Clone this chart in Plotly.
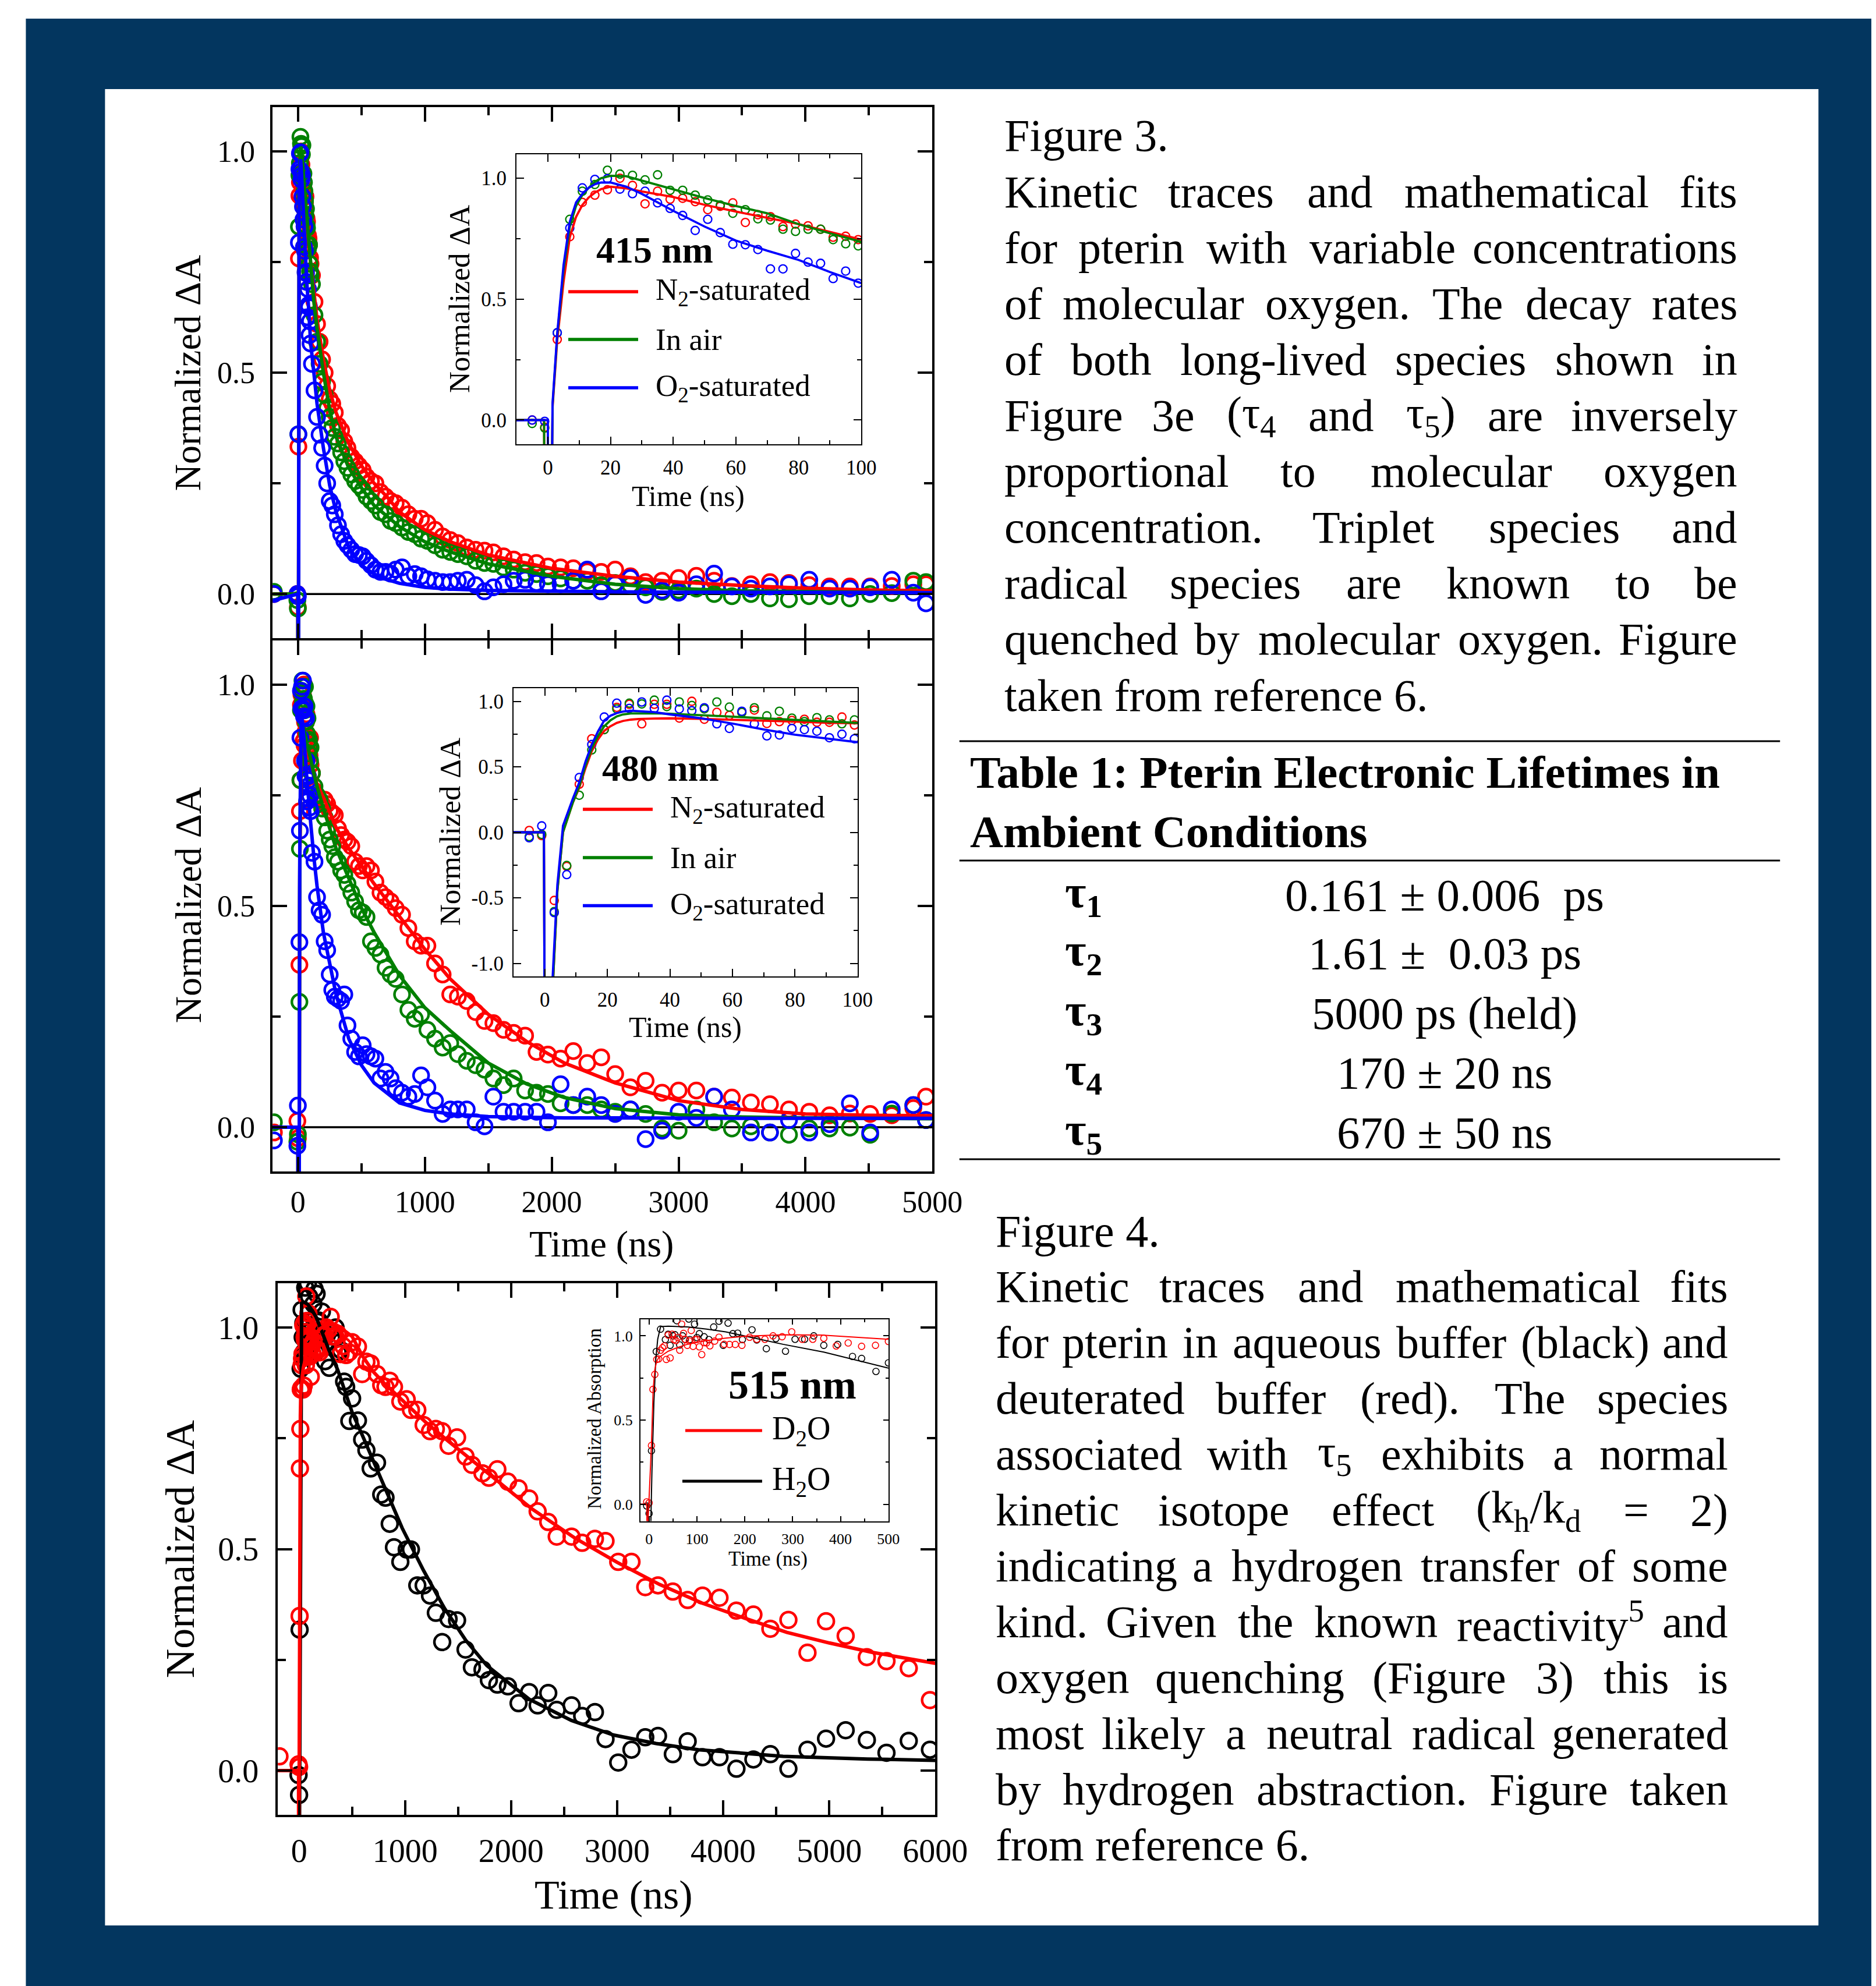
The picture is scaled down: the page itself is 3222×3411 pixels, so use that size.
import plotly.graph_objects as go

W, H = 3222, 3411          # reference canvas (design coordinates)
WF, HF = 3275, 3405        # figure size in css px
OFF = 8                    # page margin of the html body
SX, BX = 0.9833, -2.3      # horizontal squeeze of the photograph (measured)
FONT = "Liberation Serif"
NAVY = "#03365F"
RED, GREEN, BLUE, BLACK = "#ff0000", "#008000", "#0000ff", "#000000"

# ---------------- Figure 3, 415 nm ----------------
t_early = [-190, -5, -1, 3, 7, 11, 15, 19, 23, 27, 31, 35, 39, 43, 47, 51, 55, 59, 63, 67, 71, 75, 79, 83, 87, 91, 95, 99]
t_late = [110, 130, 150, 170, 190, 210, 230, 250, 270, 290, 315, 340, 365, 390, 420, 450, 480, 510, 540,
          575, 610, 650, 690, 730, 770, 820, 870, 920, 970, 1020, 1080, 1140, 1200, 1260, 1330, 1400, 1470, 1540,
          1620, 1700, 1790, 1880, 1970, 2070, 2170, 2280, 2390, 2500, 2620, 2740, 2870, 3000,
          3140, 3280, 3420, 3570, 3720, 3870, 4030, 4190, 4350, 4510, 4680, 4850, 4950]

n2_415_early = [0.0, 0.0, -0.03, 0.333, 0.758, 0.90, 0.93, 0.952, 1.0, 0.97, 0.894, 0.946, 0.913, 0.917, 0.903,
                0.87, 0.884, 0.898, 0.817, 0.849, 0.841, 0.80, 0.81, 0.803, 0.789, 0.756, 0.76, 0.746]
air_415_early = [0.005, -0.014, -0.033, 0.361, 0.83, 0.946, 0.974, 1.033, 1.017, 1.012, 0.993, 1.014, 0.95, 0.95,
                 0.93, 0.91, 0.889, 0.855, 0.87, 0.832, 0.827, 0.789, 0.78, 0.789, 0.789, 0.746, 0.729, 0.72]
o2_415_early = [0.0, 0.0, -0.005, 0.361, 0.794, 0.96, 0.995, 0.998, 0.955, 0.936, 0.946, 0.898, 0.875, 0.846,
                0.784, 0.83, 0.775, 0.727, 0.725, 0.705, 0.625, 0.625, 0.689, 0.653, 0.648, 0.585, 0.616, 0.566]

n2_415_late = [.72, .66, .61, .57, .53, .50, .47, .44, .43, .41, .38, .37, .345, .33, .31, .30, .29, .28, .265,
               .255, .25, .23, .22, .21, .205, .195, .18, .17, .17, .16, .145, .13, .122, .115, .105, .10, .098, .094,
               .085, .078, .072, .07, .062, .06, .058, .051, .05, .055, .04, .027, .03, .036,
               .041, .03, .018, .022, .027, .025, .02, .017, .017, .017, .018, .022, .022]
air_415_late = [.70, .63, .57, .52, .48, .45, .42, .40, .375, .355, .34, .32, .30, .285, .27, .255, .245, .235, .22,
                .21, .20, .185, .18, .165, .16, .15, .14, .135, .125, .12, .11, .10, .095, .09, .085, .075, .07, .068,
                .06, .055, .048, .045, .04, .035, .03, .03, .02, .025, .02, .015, .005, .008,
                .012, .0, -.005, .0, -.01, -.012, -.005, -.005, -.01, .0, .002, .03, .027]
o2_415_late = [.52, .46, .40, .36, .33, .29, .25, .21, .20, .18, .155, .135, .12, .11, .10, .09, .088, .085, .075,
               .065, .055, .05, .05, .046, .055, .06, .04, .045, .04, .033, .03, .027, .027, .03, .032, .02, .006, .015,
               .022, .03, .032, .025, .022, .022, .03, .055, .006, .022, .036, -.002, .008, .003,
               .022, .046, .017, .012, .017, .022, .032, .012, .012, .015, .032, .003, -.021]

fit415_t = [-200, -10, -1.2, -1, 0, 0.2, 0.8, 1.5, 3, 5, 7, 9, 11, 13, 15, 17, 20, 25, 30, 40,
            50, 60, 70, 80, 90, 100, 125, 150, 200, 250, 300, 400, 500, 600, 700, 800, 1000, 1200, 1500, 2000,
            2500, 3000, 3500, 4000, 4500, 5000]
fit415_n2 = [0, 0, 0, -1, -1, -1, -1, 0.05, 0.33, 0.57, 0.756, 0.84, 0.889, 0.92, 0.94, 0.955, 0.965, 0.958, 0.945, 0.922,
             0.89, 0.862, 0.835, 0.81, 0.778, 0.746, 0.68, 0.62, 0.53, 0.46, 0.41, 0.34, 0.29, 0.25, 0.22, 0.185, 0.145,
             0.118, 0.088, 0.058, 0.04, 0.027, 0.019, 0.013, 0.009, 0.007]
fit415_air = [0, 0, 0, -1, -1, -1, -1, 0.06, 0.35, 0.62, 0.80, 0.885, 0.93, 0.96, 0.985, 1.0, 1.01, 1.008, 0.99, 0.955,
              0.918, 0.885, 0.855, 0.81, 0.772, 0.737, 0.66, 0.60, 0.50, 0.415, 0.355, 0.285, 0.24, 0.20, 0.175, 0.152,
              0.118, 0.095, 0.068, 0.04, 0.022, 0.012, 0.007, 0.005, 0.004, 0.003]
fit415_o2 = [-0.015, 0, 0, 0, 0, -1, -1, 0.07, 0.36, 0.64, 0.82, 0.90, 0.935, 0.96, 0.975, 0.982, 0.982, 0.965, 0.935, 0.865,
             0.80, 0.742, 0.70, 0.662, 0.612, 0.566, 0.50, 0.43, 0.33, 0.245, 0.185, 0.105, 0.065, 0.045, 0.033, 0.024,
             0.015, 0.011, 0.008, 0.006, 0.005, 0.004, 0.004, 0.003, 0.003, 0.003]

# ---------------- Figure 3, 480 nm ----------------
n2_480_early = [-0.012, 0.014, -0.025, -0.52, -0.26, 0.367, 0.714, 0.784, 0.954, 0.977, 0.828, 0.977, 0.977, 0.872,
                1.0, 0.863, 0.916, 0.893, 0.916, 0.933, 0.831, 0.845, 0.854, 0.863, 0.84, 0.84, 0.88, 0.819]
air_480_early = [0.011, -0.033, -0.016, -0.605, -0.253, 0.283, 0.629, 0.784, 0.942, 0.986, 0.98, 1.009, 0.96, 0.995,
                 0.968, 0.942, 0.995, 0.956, 0.916, 0.951, 0.889, 0.924, 0.872, 0.845, 0.875, 0.858, 0.828, 0.858]
o2_480_early = [-0.03, -0.042, 0.049, -0.613, -0.323, 0.418, 0.67, 0.88, 0.986, 0.946, 0.995, 0.946, 1.009, 0.942,
                0.928, 0.951, 0.828, 0.793, 0.924, 0.828, 0.736, 0.743, 0.793, 0.784, 0.772, 0.722, 0.749, 0.714]

n2_480_late = [.80, .76, .745, .735, .73, .74, .73, .715, .71, .705, .675, .66, .65, .645, .635, .60, .59, .58, .59,
               .58, .555, .53, .52, .51, .495, .48, .45, .42, .41, .41, .37, .345, .30, .295, .285, .26, .24, .235,
               .22, .213, .207, .17, .164, .155, .172, .145, .158, .12, .09, .105, .078, .083,
               .083, .069, .067, .056, .052, .04, .035, .027, .031, .03, .027, .043, .069]
air_480_late = [.80, .77, .75, .74, .72, .70, .67, .65, .635, .61, .60, .58, .57, .55, .53, .51, .49, .485, .475,
                .42, .405, .39, .36, .345, .335, .30, .265, .245, .255, .22, .20, .18, .19, .165, .15, .14, .13, .11,
                .095, .11, .083, .078, .075, .054, .05, .05, .04, .035, .04, .03, -.003, -.008,
                .04, .011, -.003, .002, -.012, -.017, -.003, -.003, -.001, -.017, .031, .05, .016]
o2_480_late = [.62, .60, .52, .49, .48, .42, .40, .345, .31, .295, .29, .285, .30, .23, .20, .17, .16, .185, .165,
               .16, .155, .11, .125, .11, .088, .078, .069, .075, .117, .09, .06, .03, .04, .04, .04, .011, .002, .069,
               .035, .035, .035, .035, .011, .097, .05, .069, .05, .03, .04, -.027, -.008, .035,
               .021, .069, .04, -.012, -.012, .016, -.012, .007, .054, -.012, .04, .05, .016]

fit480_t = [-200, -10, -0.3, 0, 1, 2.5, 4, 5.8, 7, 9, 11, 13, 15, 17, 19, 21, 23, 25, 27.5, 30,
            35, 40, 50, 60, 70, 80, 90, 100, 125, 150, 200, 300, 400, 500, 600, 800, 1000, 1200, 1500, 1800,
            2100, 2500, 3000, 3500, 4000, 4500, 5000]
fit480_n2 = [0, 0, 0, -2, -2, -1.2, -0.45, 0.0, 0.09, 0.23, 0.34, 0.49, 0.62, 0.71, 0.775, 0.81, 0.835, 0.85, 0.86, 0.865,
             0.868, 0.87, 0.866, 0.86, 0.852, 0.845, 0.836, 0.828, 0.80, 0.775, 0.745, 0.677, 0.63, 0.59, 0.55, 0.476,
             0.402, 0.335, 0.255, 0.194, 0.145, 0.10, 0.06, 0.04, 0.03, 0.027, 0.026]
fit480_air = [0, 0, 0, -2, -2, -1.2, -0.45, 0.0, 0.09, 0.23, 0.35, 0.51, 0.64, 0.735, 0.81, 0.855, 0.885, 0.90, 0.907, 0.908,
              0.908, 0.905, 0.895, 0.883, 0.87, 0.856, 0.842, 0.828, 0.80, 0.77, 0.72, 0.63, 0.56, 0.495, 0.44, 0.343,
              0.27, 0.218, 0.145, 0.098, 0.067, 0.042, 0.028, 0.023, 0.021, 0.02, 0.019]
fit480_o2 = [0, 0, 0, -2, -2, -1.1, -0.4, 0.05, 0.13, 0.26, 0.38, 0.54, 0.67, 0.77, 0.854, 0.89, 0.91, 0.922, 0.928, 0.925,
             0.917, 0.90, 0.87, 0.83, 0.785, 0.745, 0.715, 0.687, 0.61, 0.545, 0.44, 0.30, 0.20, 0.14, 0.10, 0.055,
             0.038, 0.03, 0.024, 0.022, 0.021, 0.021, 0.02, 0.02, 0.02, 0.02, 0.02]

# ---------------- Figure 4, 515 nm ----------------
d2o_t_early = [-185, -5, 0, 5, 8, 12, 16, 20, 24, 28, 32, 36, 40, 44, 48, 52, 56, 60, 64, 68, 72, 76, 80, 84, 88, 92, 96,
               100, 105, 110, 115, 120, 127, 137, 146, 157, 168, 180, 194, 210, 225, 242, 259, 278, 298, 320, 342,
               365, 391, 416, 444, 473, 500]
d2o_early = [0.032, .014, .008, .349, .682, .771, .86, .863, .915, .93, .94, .86, 1.005, .869, 1.01, .978, .972, .99,
             .915, 1.07, 1.015, .978, .944, .97, 1.032, .938, .978, .98, .935, .889, .96, .958, .941, .969, .992, .95,
             .949, .949, .944, .992, .98, .98, 1.0, .995, 1.024, .98, .98, .986, .94, .958, .938, .944, .967]
h2o_t_early = [-5, 0, 5, 15, 24, 34, 40, 44, 50, 54, 58, 64, 70, 75, 83, 85, 95, 100, 105, 115, 125, 135, 146, 155,
               165, 175, 185, 195, 215, 225, 245, 265, 285, 305, 325, 344, 365, 394, 425, 444, 474, 500]
h2o_early = [-.01, -.055, .318, .907, 1.04, .978, 1.01, .944, 1.0, 1.007, 1.09, .946, 1.0, .98, 1.1, .978, 1.07, .99,
             1.013, .995, .978, 1.053, 1.087, .944, 1.076, 1.013, 1.016, .978, 1.036, .976, .924, .984, .909, .98, .98,
             1.0, .944, .949, .878, .866, .789, .84]
t515_late = [555, 595, 635, 675, 735, 775, 815, 855, 895, 955, 1015, 1055, 1115, 1175, 1235, 1290, 1350, 1410, 1490,
             1570, 1630, 1730, 1790, 1870, 1970, 2070, 2170, 2250, 2350, 2430, 2570, 2670, 2790, 2890, 3010, 3135,
             3265, 3385, 3525, 3665, 3805, 3965, 4125, 4285, 4445, 4615, 4795, 4970, 5155, 5355, 5540, 5750, 5950]
d2o_late = [.957, .895, .923, .919, .895, .87, .866, .88, .866, .833, .838, .814, .814, .78, .766, .771, .766, .733,
            .752, .709, .69, .671, .661, .68, .652, .637, .614, .585, .561, .528, .528, .514, .523, .518, .471, .471,
            .414, .418, .404, .385, .395, .39, .361, .352, .32, .34, .266, .337, .304, .256, .247, .231, .159]
h2o_late = [.79, .747, .723, .682, .695, .623, .616, .557, .504, .471, .499, .499, .418, .418, .395, .356, .29, .342,
            .339, .273, .233, .228, .204, .194, .19, .152, .177, .147, .175, .137, .147, .123, .132, .071, .018, .047,
            .075, .078, .037, .066, .03, .03, .004, .025, .037, .004, .047, .072, .091, .069, .04, .067, .047]

fit_d2o_t = [-200, -4.6, -4.4, -2.5, 1, 5, 8.5, 12, 16, 20, 30, 40, 60, 80, 120, 160, 200, 280, 360, 440,
             500, 600, 700, 800, 1000, 1200, 1400, 1800, 2200, 2600, 3000, 3400, 3800, 4200, 4600, 5000, 5400, 6000]
fit_d2o = [0, 0, -0.4, -0.12, 0.1, 0.36, 0.68, 0.80, 0.85, 0.87, 0.89, 0.909, 0.932, 0.95, 0.972, 0.987, 0.998, 1.007,
           1.005, 0.992, 0.98, 0.935, 0.90, 0.875, 0.83, 0.785, 0.745, 0.668, 0.59, 0.525, 0.47, 0.42, 0.378, 0.344,
           0.312, 0.288, 0.267, 0.242]
fit_h2o_t = [-200, -2.2, -2, 3, 6, 10, 14, 18, 24, 40, 80, 120, 160, 200, 280, 365, 446, 500, 600, 774,
             973, 1173, 1372, 1572, 1771, 2170, 2569, 2968, 3367, 3766, 4564, 5362, 6000]
fit_h2o = [0, 0, -0.5, -0.2, 0.2, 0.6, 0.86, 0.98, 1.055, 1.058, 1.053, 1.04, 1.024, 1.0, 0.95, 0.904, 0.846, 0.809,
           0.755, 0.66, 0.547, 0.452, 0.366, 0.294, 0.237, 0.161, 0.113, 0.08, 0.061, 0.047, 0.032, 0.026, 0.023]

# ---------------- texts ----------------
legend_o2 = ["N<sub>2</sub>-saturated", "In air", "O<sub>2</sub>-saturated"]
legend_iso = ["D<sub>2</sub>O", "H<sub>2</sub>O"]
table_syms = ["τ<sub>1</sub>", "τ<sub>2</sub>", "τ<sub>3</sub>", "τ<sub>4</sub>", "τ<sub>5</sub>"]
table_vals = ["0.161 ± 0.006\u00a0 ps", "1.61 ±\u00a0 0.03 ps", "5000 ps (held)", "170 ± 20 ns", "670 ± 50 ns"]
cap3 = [("Figure 3.", False),
        ("Kinetic traces and mathematical fits", True),
        ("for pterin with variable concentrations", True),
        ("of molecular oxygen. The decay rates", True),
        ("of both long-lived species shown in", True),
        ("Figure 3e (τ<sub>4</sub> and τ<sub>5</sub>) are inversely", True),
        ("proportional to molecular oxygen", True),
        ("concentration. Triplet species and", True),
        ("radical species are known to be", True),
        ("quenched by molecular oxygen. Figure", True),
        ("taken from reference 6.", False)]
cap4 = [("Figure 4.", False),
        ("Kinetic traces and mathematical fits", True),
        ("for pterin in aqueous buffer (black) and", True),
        ("deuterated buffer (red). The species", True),
        ("associated with τ<sub>5</sub> exhibits a normal", True),
        ("kinetic isotope effect (k<sub>h</sub>/k<sub>d</sub> = 2)", True),
        ("indicating a hydrogen transfer of some", True),
        ("kind. Given the known reactivity<sup>5</sup> and", True),
        ("oxygen quenching (Figure 3) this is", True),
        ("most likely a neutral radical generated", True),
        ("by hydrogen abstraction. Figure taken", True),
        ("from reference 6.", False)]

# ---------------- helpers ----------------
def px(x):
    return ((x - BX) / SX - OFF) / WF

def py(y):
    return 1 - (y - OFF) / HF

fig = go.Figure()

def markers(xa, ya, t, v, color, size, lw):
    fig.add_trace(go.Scatter(x=t, y=v, mode="markers", xaxis=xa, yaxis=ya, showlegend=False, hoverinfo="skip",
                             marker=dict(symbol="circle-open", size=size, color=color,
                                         line=dict(width=lw, color=color))))

def curve(xa, ya, t, v, color, w):
    fig.add_trace(go.Scatter(x=t, y=v, mode="lines", xaxis=xa, yaxis=ya, showlegend=False, hoverinfo="skip",
                             line=dict(color=color, width=w)))

def axis(dom, rng, anchor, tv, tt, mv, tl, ml, lw, fs, labels=True, standoff=0):
    return dict(domain=dom, range=rng, anchor=anchor, showline=True, linecolor="black", linewidth=lw,
                mirror="allticks", ticks="inside", ticklen=tl, tickwidth=lw, tickcolor="black",
                showgrid=False, zeroline=False, showticklabels=labels, tickmode="array",
                tickvals=tv, ticktext=tt, ticklabelstandoff=standoff,
                tickfont=dict(family=FONT, size=fs, color="black"),
                minor=dict(tickmode="array", tickvals=mv, ticks="inside", ticklen=ml, tickwidth=lw,
                           tickcolor="black", showgrid=False))

def ann(x, y, text, size, xanchor="center", yanchor="middle", angle=0):
    fig.add_annotation(x=px(x), y=py(y), xref="paper", yref="paper", text=text, showarrow=False,
                       xanchor=xanchor, yanchor=yanchor, textangle=angle,
                       font=dict(family=FONT, size=size, color="black"))

TW = {' ': 250, '!': 333, '(': 333, ')': 333, ',': 250, '-': 333, '.': 250, '/': 278, ':': 278, '=': 564,
      '±': 564, 'τ': 440, '0': 500, '1': 500, '2': 500, '3': 500, '4': 500, '5': 500, '6': 500, '7': 500,
      '8': 500, '9': 500, 'A': 722, 'B': 667, 'C': 667, 'D': 722, 'E': 611, 'F': 556, 'G': 722, 'H': 722,
      'I': 333, 'K': 722, 'L': 611, 'M': 889, 'N': 722, 'O': 722, 'P': 556, 'R': 667, 'S': 556, 'T': 611,
      'a': 444, 'b': 500, 'c': 444, 'd': 500, 'e': 444, 'f': 333, 'g': 500, 'h': 500, 'i': 278, 'j': 278,
      'k': 500, 'l': 278, 'm': 778, 'n': 500, 'o': 500, 'p': 500, 'q': 500, 'r': 333, 's': 389, 't': 278,
      'u': 500, 'v': 500, 'w': 722, 'x': 500, 'y': 500, 'z': 444}

def text_width(s, fs):
    tot, sc, i = 0.0, 1.0, 0
    while i < len(s):
        if s.startswith("<sub>", i) or s.startswith("<sup>", i):
            sc = 0.7; i += 5; continue
        if s.startswith("</sub>", i) or s.startswith("</sup>", i):
            sc = 1.0; i += 6; continue
        tot += TW.get(s[i], 500) * sc
        i += 1
    return tot * fs / 1000.0 * SX

def paragraph(lines, L, R, y0, dy, fs):
    for k, (line, just) in enumerate(lines):
        y = y0 + k * dy
        words = line.split(" ")
        if not just:
            ann(L, y, line, fs, "left")
            continue
        ws = [text_width(w, fs) for w in words]
        gap = (R - L - sum(ws)) / (len(words) - 1)
        x = L
        for i, (w, wd) in enumerate(zip(words, ws)):
            if i == 0:
                ann(L, y, w, fs, "left")
            elif i == len(words) - 1:
                ann(R, y, w, fs, "right")
            else:
                ann(x + wd / 2, y, w, fs, "center")
            x += wd + gap

# ---------------- traces ----------------
t415 = t_early + t_late
sets415 = [(n2_415_early + n2_415_late, RED), (air_415_early + air_415_late, GREEN), (o2_415_early + o2_415_late, BLUE)]
fits415 = [(fit415_n2, RED), (fit415_air, GREEN), (fit415_o2, BLUE)]
sets480 = [(n2_480_early + n2_480_late, RED), (air_480_early + air_480_late, GREEN), (o2_480_early + o2_480_late, BLUE)]
fits480 = [(fit480_n2, RED), (fit480_air, GREEN), (fit480_o2, BLUE)]

for (xa, ya, ms, mlw, flw) in [("x", "y", 26, 4.5, 6.0), ("x4", "y4", 14, 2.3, 3.8)]:
    for v, c in sets415:
        markers(xa, ya, t415, v, c, ms, mlw)
    for v, c in fits415:
        curve(xa, ya, fit415_t, v, c, flw)
for (xa, ya, ms, mlw, flw) in [("x2", "y2", 26, 4.5, 6.0), ("x5", "y5", 14, 2.3, 3.8)]:
    for v, c in sets480:
        markers(xa, ya, t415, v, c, ms, mlw)
    for v, c in fits480:
        curve(xa, ya, fit480_t, v, c, flw)
for (xa, ya, ms, mlw, flw) in [("x3", "y3", 27, 4.5, 6.0), ("x6", "y6", 11, 1.6, 2.0)]:
    markers(xa, ya, h2o_t_early + t515_late, h2o_early + h2o_late, BLACK, ms, mlw)
    markers(xa, ya, d2o_t_early + t515_late, d2o_early + d2o_late, RED, ms, mlw)
    curve(xa, ya, fit_h2o_t, fit_h2o, BLACK, flw)
    curve(xa, ya, fit_d2o_t, fit_d2o, RED, flw)

# ---------------- axes ----------------
yv = [0, 0.5, 1.0]
yt = ["0.0", "0.5", "1.0"]
ym = [0.25, 0.75]
xv5 = [0, 1000, 2000, 3000, 4000, 5000]
xv6 = [0, 1000, 2000, 3000, 4000, 5000, 6000]
xm5 = [500, 1500, 2500, 3500, 4500]
xm6 = [500, 1500, 2500, 3500, 4500, 5500]
xi = [0, 20, 40, 60, 80, 100]
xim = [10, 30, 50, 70, 90]
xi3 = [0, 100, 200, 300, 400, 500]
xi3m = [50, 150, 250, 350, 450]
yv2 = [-1.0, -0.5, 0, 0.5, 1.0]
yt2 = ["-1.0", "-0.5", "0.0", "0.5", "1.0"]
ym2 = [-0.75, -0.25, 0.25, 0.75]

main_x = [px(466), px(1599.5)]
fig.update_layout(
    xaxis=axis(main_x, [-200, 5000], "y", xv5, [str(v) for v in xv5], xm5, 25, 14, 3.6, 52, labels=False),
    yaxis=axis([py(1096.2), py(184)], [-0.1, 1.1], "x", yv, yt, ym, 25, 14, 3.6, 52, standoff=16),
    xaxis2=axis(main_x, [-200, 5000], "y2", xv5, [str(v) for v in xv5], xm5, 25, 14, 3.6, 52, standoff=4),
    yaxis2=axis([py(2012), py(1099.8)], [-0.1, 1.1], "x2", yv, yt, ym, 25, 14, 3.6, 52, standoff=16),
    xaxis3=axis([px(475), px(1604.5)], [-200, 6000], "y3", xv6, [str(v) for v in xv6], xm6, 25, 14, 3.6, 56, standoff=10),
    yaxis3=axis([py(3117), py(2204)], [-0.1, 1.1], "x3", yv, yt, ym, 25, 14, 3.6, 56, standoff=18),
    xaxis4=axis([px(885), px(1477.5)], [-10, 100], "y4", xi, [str(v) for v in xi], xim, 13, 7, 2.2, 35, standoff=8),
    yaxis4=axis([py(763), py(264.5)], [-0.1, 1.1], "x4", yv, yt, ym, 13, 7, 2.2, 35, standoff=8),
    xaxis5=axis([px(880), px(1471)], [-10, 100], "y5", xi, [str(v) for v in xi], xim, 13, 7, 2.2, 35, standoff=8),
    yaxis5=axis([py(1677), py(1182)], [-1.1, 1.1], "x5", yv2, yt2, ym2, 13, 7, 2.2, 35, standoff=8),
    xaxis6=axis([px(1098), px(1524)], [-18, 500], "y6", xi3, [str(v) for v in xi3], xi3m, 9, 5, 2.0, 26, standoff=6),
    yaxis6=axis([py(2612.5), py(2265.5)], [-0.1, 1.1], "x6", yv, yt, ym, 9, 5, 2.0, 26, standoff=6),
)

# ---------------- shapes ----------------
shapes = [
    dict(type="rect", xref="paper", yref="paper", x0=px(42), x1=1, y0=0, y1=py(32),
         fillcolor=NAVY, line=dict(width=0), layer="below"),
    dict(type="rect", xref="paper", yref="paper", x0=px(178), x1=px(3122), y0=py(3307), y1=py(153),
         fillcolor="white", line=dict(width=0), layer="below"),
    dict(type="line", xref="x domain", yref="y", x0=0, x1=1, y0=0, y1=0, line=dict(color="black", width=3.6), layer="below"),
    dict(type="line", xref="x2 domain", yref="y2", x0=0, x1=1, y0=0, y1=0, line=dict(color="black", width=3.6), layer="below"),
]
for yr in [1273, 1478, 1991]:
    shapes.append(dict(type="line", xref="paper", yref="paper", x0=px(1646), x1=px(3056), y0=py(yr), y1=py(yr),
                       line=dict(color="black", width=3)))
for (x0, x1, ys, cols) in [(974, 1094, [501, 583, 666], [RED, GREEN, BLUE]),
                           (999, 1119, [1390, 1473, 1555.5], [RED, GREEN, BLUE])]:
    for yy, c in zip(ys, cols):
        shapes.append(dict(type="line", xref="paper", yref="paper", x0=px(x0), x1=px(x1), y0=py(yy), y1=py(yy),
                           line=dict(color=c, width=5.5)))
shapes.append(dict(type="line", xref="paper", yref="paper", x0=px(1175), x1=px(1307), y0=py(2457), y1=py(2457),
                   line=dict(color=RED, width=5)))
shapes.append(dict(type="line", xref="paper", yref="paper", x0=px(1170), x1=px(1307), y0=py(2544), y1=py(2544),
                   line=dict(color=BLACK, width=5)))
fig.update_layout(shapes=shapes)

# ---------------- annotations ----------------
ann(321, 641, "Normalized ΔA", 64, angle=-90)
ann(321, 1555, "Normalized ΔA", 64, angle=-90)
ann(1031, 2136, "Time (ns)", 64)
ann(307, 2660, "Normalized ΔA", 70, angle=-90)
ann(1052, 3254, "Time (ns)", 70)

ann(787, 514, "Normalized ΔA", 51, angle=-90)
ann(1180, 852, "Time (ns)", 50)
ann(771, 1429, "Normalized ΔA", 51, angle=-90)
ann(1175, 1764, "Time (ns)", 50)
ann(1019, 2437, "Normalized Absorption", 33, angle=-90)
ann(1317, 2677, "Time (ns)", 35)

ann(1123, 429, "<b>415 nm</b>", 64)
ann(1133, 1319, "<b>480 nm</b>", 64)
ann(1359, 2378, "<b>515 nm</b>", 70)
for txt, yy in zip(legend_o2, [501, 583, 666]):
    ann(1122, yy, txt, 53, "left")
for txt, yy in zip(legend_o2, [1390, 1473, 1555.5]):
    ann(1147, yy, txt, 53, "left")
for txt, yy in zip(legend_iso, [2457, 2544]):
    ann(1322, yy, txt, 56, "left")

# table
ann(1662, 1326, "<b>Table 1: Pterin Electronic Lifetimes in</b>", 79, "left")
ann(1662, 1428, "<b>Ambient Conditions</b>", 79, "left")
for s, v, yy in zip(table_syms, table_vals, [1537, 1638, 1740, 1842, 1945]):
    ann(1825, yy, "<b>" + s + "</b>", 79, "left")
    ann(2480, yy, v, 79)

# captions
paragraph(cap3, 1721, 2985, 233, 96.1, 78)
paragraph(cap4, 1706, 2969, 2114, 95.9, 78)

fig.update_layout(width=WF, height=HF, margin=dict(l=0, r=0, t=0, b=0, pad=0),
                  paper_bgcolor="white", plot_bgcolor="white", showlegend=False,
                  font=dict(family=FONT, color="black"))

fig.write_html("out.html")
